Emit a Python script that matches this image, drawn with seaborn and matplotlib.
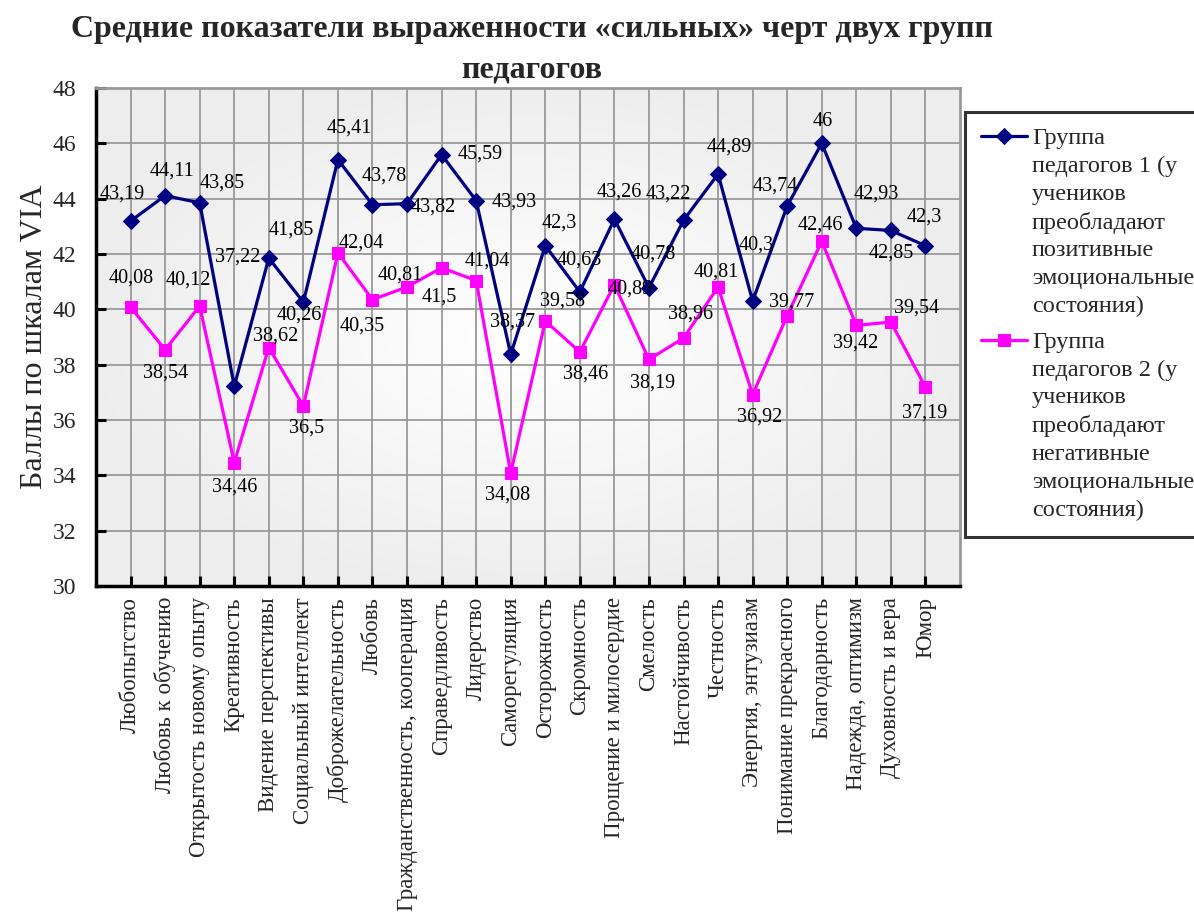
import numpy as np
import pandas as pd
import matplotlib
matplotlib.use("Agg")
import matplotlib.pyplot as plt
import seaborn as sns

categories = ["Любопытство", "Любовь к обучению", "Открытость новому опыту", "Креативность",
              "Видение перспективы", "Социальный интеллект", "Доброжелательность", "Любовь",
              "Гражданственность, кооперация", "Справедливость", "Лидерство", "Саморегуляция",
              "Осторожность", "Скромность", "Прощение и милосердие", "Смелость", "Настойчивость",
              "Честность", "Энергия, энтузиазм", "Понимание прекрасного", "Благодарность",
              "Надежда, оптимизм", "Духовность и вера", "Юмор"]
group1 = [43.19, 44.11, 43.85, 37.22, 41.85, 40.26, 45.41, 43.78, 43.82, 45.59, 43.93, 38.37,
          42.3, 40.63, 43.26, 40.78, 43.22, 44.89, 40.3, 43.74, 46, 42.93, 42.85, 42.3]
group2 = [40.08, 38.54, 40.12, 34.46, 38.62, 36.5, 42.04, 40.35, 40.81, 41.5, 41.04, 34.08,
          39.58, 38.46, 40.89, 38.19, 38.96, 40.81, 36.92, 39.77, 42.46, 39.42, 39.54, 37.19]
label1 = "Группа\nпедагогов 1 (у\nучеников\nпреобладают\nпозитивные\nэмоциональные\nсостояния)"
label2 = "Группа\nпедагогов 2 (у\nучеников\nпреобладают\nнегативные\nэмоциональные\nсостояния)"
title_lines = ["Средние показатели выраженности «сильных» черт двух групп", "педагогов"]
ylabel = "Баллы по шкалам VIA"
yticks = [30, 32, 34, 36, 38, 40, 42, 44, 46, 48]

# label offsets in pixels (dx right, dy down) -- layout only
off1 = [(-8, -27), (7, -25), (23, -20), (3, -129), (22, -28), (-4, 13), (11, -32), (12, -29),
        (26, 3), (39, -1), (38, 1), (2, -32), (14, -23), (-1, -32), (5, -27), (4, -34),
        (-15, -26), (11, -27), (4, -56), (-12, -20), (1, -22), (20, -34), (0, 23), (-1, -29)]
off2 = [(1, -29), (0, 23), (-11, -26), (0, 24), (7, -11), (3, 22), (23, -10), (-10, 26),
        (-7, -12), (-2, 29), (11, -20), (-3, 22), (17, -20), (6, 22), (16, 4), (4, 24),
        (7, -24), (-2, -15), (7, 23), (4, -14), (-1, -16), (-1, 18), (26, -14), (-1, 26)]

sns.set_theme(style="white")
plt.rcParams['font.family'] = ['Liberation Serif', 'DejaVu Serif']

W, H = 1194, 915
fig = plt.figure(figsize=(W / 100, H / 100), dpi=100)
ax = fig.add_axes([96 / W, 1 - 586 / H, (960 - 96) / W, (586 - 88) / H])

n = len(categories)
x = np.arange(n)
df = pd.DataFrame({"x": np.concatenate([x, x]),
                   "y": group1 + group2,
                   "g": [label1] * n + [label2] * n})

# radial gradient background
gx, gy = np.meshgrid(np.linspace(-1, 1, 300), np.linspace(-1, 1, 300))
r = np.clip(np.sqrt(gx ** 2 + gy ** 2) / np.sqrt(2), 0, 1)
shade = 1 - 0.07 * np.clip(r * 1.35, 0, 1) ** 1.1
ax.imshow(np.dstack([shade] * 3), extent=(-1, n, 30, 48), aspect='auto', zorder=0,
          interpolation='bicubic')

sns.lineplot(data=df[df.g == label1], x="x", y="y", ax=ax, color="#000080", marker="D",
             markersize=8, linewidth=2.3, markeredgecolor="#000080", label=label1, zorder=3)
sns.lineplot(data=df[df.g == label2], x="x", y="y", ax=ax, color="#ff00ff", marker="s",
             markersize=9, linewidth=2.3, markeredgecolor="#ff00ff", label=label2, zorder=3)

for i in range(n):
    ax.annotate(f"{group1[i]:g}".replace(".", ","), (x[i], group1[i]),
                xytext=(off1[i][0], -off1[i][1]), textcoords="offset pixels",
                ha="center", va="center", fontsize=14.5, color="black", zorder=4)
    ax.annotate(f"{group2[i]:g}".replace(".", ","), (x[i], group2[i]),
                xytext=(off2[i][0], -off2[i][1]), textcoords="offset pixels",
                ha="center", va="center", fontsize=14.5, color="black", zorder=4)

ax.set_xlim(-1, n)
ax.set_ylim(30, 48)
ax.set_xticks(x)
ax.set_xticklabels(categories, rotation=90, fontsize=16.5)
ax.set_yticks(yticks)
ax.set_yticklabels([str(t) for t in yticks], fontsize=17)
ax.set_xlabel("")
ax.set_ylabel(ylabel, fontsize=23, labelpad=3)
ax.grid(True, color="#999999", linewidth=1.3, zorder=1)
ax.set_axisbelow(True)
ax.tick_params(axis='both', direction='in', length=7, width=2.2, color='black',
               left=True, bottom=True)
ax.tick_params(axis='y', pad=14)
ax.tick_params(axis='x', pad=8)
for s in ['left', 'bottom']:
    ax.spines[s].set_color('black')
    ax.spines[s].set_linewidth(2.5)
for s in ['top', 'right']:
    ax.spines[s].set_color('#999999')
    ax.spines[s].set_linewidth(2)

fig.text(532 / W, 1 - 30 / H, title_lines[0], ha="center", va="center", fontsize=23,
         fontweight="bold")
fig.text(532 / W, 1 - 70 / H, title_lines[1], ha="center", va="center", fontsize=23,
         fontweight="bold")

leg = ax.legend(loc="upper left", bbox_to_anchor=(965 / W, 1 - 112 / H), bbox_transform=fig.transFigure,
                fontsize=17.5, frameon=True, fancybox=False, borderaxespad=0, handlelength=1.9,
                handletextpad=0.2, borderpad=0.65, labelspacing=0.6)
leg.get_frame().set_edgecolor("black")
leg.get_frame().set_linewidth(2.2)
for t in leg.get_texts():
    t.set_linespacing(1.42)
for col in leg._legend_handle_box.get_children():
    for row in col.get_children():
        row.align = "top"

fig.savefig("out.png", dpi=100, facecolor="white")
